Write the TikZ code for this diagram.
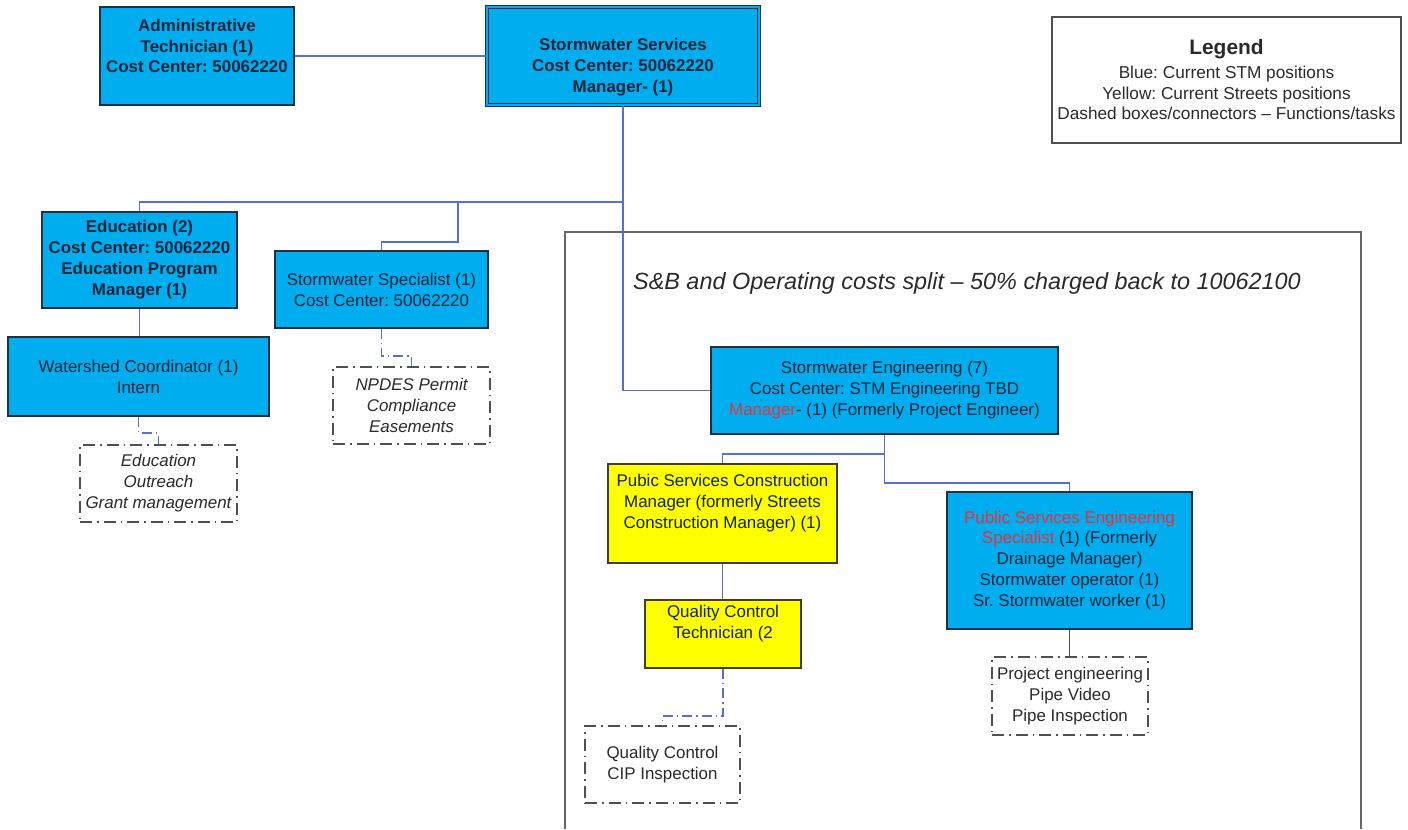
\documentclass[tikz,border=0pt]{standalone}
\usepackage{fontspec}
\setmainfont{Liberation Sans}
\frenchspacing
\definecolor{boxblue}{HTML}{00AEEF}
\definecolor{boxedge}{HTML}{1B2F45}
\definecolor{txt}{HTML}{10243A}
\definecolor{ylw}{HTML}{FFFF00}
\definecolor{ylwedge}{HTML}{3F3F1F}
\definecolor{conn}{HTML}{5470D0}
\definecolor{dashgray}{HTML}{505050}
\definecolor{tasktxt}{HTML}{2A2A2A}
\definecolor{redtxt}{HTML}{E8303A}
\definecolor{framegray}{HTML}{666666}
\tikzset{
  boxfont/.style={font=\fontsize{17}{21}\selectfont},
  bluebox/.style={draw=boxedge, fill=boxblue, line width=1.3bp, inner sep=0pt, text=txt, align=center, boxfont},
  yellowbox/.style={draw=ylwedge, fill=ylw, line width=1.3bp, inner sep=0pt, text=txt, align=center, boxfont},
  taskbox/.style={draw=dashgray, line width=1.2bp, dash pattern=on 12bp off 5bp on 1.5bp off 5bp, fill=white, inner sep=0pt, text=tasktxt, align=center, boxfont},
  plaintext/.style={inner sep=0pt, align=center, text=txt, boxfont},
  link/.style={draw=conn, line width=1.2bp},
  dlink/.style={link, dash pattern=on 10bp off 4bp on 1.5bp off 4bp},
  glink/.style={draw=dashgray, line width=1.2bp}
}
\begin{document}
\begin{tikzpicture}[x=1bp, y=-1bp]
\useasboundingbox (0,0) rectangle (1408,829);
\fill[white] (0,0) rectangle (1408,829);

% frame of the cost split area
\draw[framegray, line width=1.2bp] (565,829) -- (565,232) -- (1361,232) -- (1361,829);
\node[inner sep=0pt, text=tasktxt, font=\fontsize{23.5}{27}\selectfont\itshape] (title) at (967,283) {S\&B and Operating costs split -- 50\% charged back to 10062100};

% top row
\node[bluebox, minimum width=194bp, minimum height=98bp] (admin) at (197,56) {};
\node[plaintext, font=\fontsize{17}{21}\selectfont\bfseries] (admint) at (197,46) {Administrative\\Technician (1)\\Cost Center: 50062220};
\node[bluebox, minimum width=272bp, minimum height=98bp, double=boxblue, double distance=1.6bp, line width=1.2bp] (ss) at (623,56) {};
\node[plaintext, font=\fontsize{17}{21}\selectfont\bfseries] (sst) at (623,67) {Stormwater Services\\Cost Center: 50062220\\Manager- (1)};

% legend
\node[draw=dashgray, line width=1.3bp, fill=white, minimum width=349bp, minimum height=126bp] (legend) at (1226.5,80) {};
\node[inner sep=0pt, text=tasktxt, font=\fontsize{21}{25}\selectfont\bfseries] (legt) at (1226.5,49) {Legend};
\node[inner sep=0pt, align=center, text=tasktxt, font=\fontsize{17.3}{20.5}\selectfont] (legb) at (1226.5,93) {Blue: Current STM positions\\Yellow: Current Streets positions\\Dashed boxes/connectors -- Functions/tasks};

% left branch
\node[bluebox, font=\fontsize{17}{21}\selectfont\bfseries, minimum width=195bp, minimum height=96bp] (edu) at (139.5,260) {Education (2)\\Cost Center: 50062220\\Education Program\\Manager (1)};
\node[bluebox, minimum width=261bp, minimum height=79bp] (ws) at (138.5,376.5) {Watershed Coordinator (1)\\Intern};
\node[taskbox, font=\fontsize{17}{21}\selectfont\itshape, minimum width=157bp, minimum height=77bp] (edutask) at (158.5,483.5) {Education\\Outreach\\Grant management};
\node[bluebox, minimum width=213bp, minimum height=77bp] (spec) at (381.5,289.5) {Stormwater Specialist (1)\\Cost Center: 50062220};
\node[taskbox, font=\fontsize{17}{21}\selectfont\itshape, minimum width=157bp, minimum height=77bp] (npdes) at (411.5,405.5) {NPDES Permit\\Compliance\\Easements};

% engineering
\node[bluebox, minimum width=347bp, minimum height=87bp] (se) at (884.5,390.5) {Stormwater Engineering (7)\\Cost Center: STM Engineering TBD\\\textcolor{redtxt}{Manager}- (1) (Formerly Project Engineer)};
\node[yellowbox, minimum width=229bp, minimum height=99bp] (pscm) at (722.5,513.5) {};
\node[plaintext] (pscmt) at (722.5,503) {Pubic Services Construction\\Manager (formerly Streets\\Construction Manager) (1)};
\node[yellowbox, minimum width=156bp, minimum height=68bp] (qct) at (723,634) {};
\node[plaintext] (qctt) at (723,624) {Quality Control\\Technician (2};
\node[taskbox, minimum width=155bp, minimum height=77bp] (cip) at (662.5,764.5) {Quality Control\\CIP Inspection};
\node[bluebox, minimum width=245bp, minimum height=137bp] (pses) at (1069.5,560.5) {\textcolor{redtxt}{Public Services Engineering}\\\textcolor{redtxt}{Specialist} (1) (Formerly\\Drainage Manager)\\Stormwater operator (1)\\Sr. Stormwater worker (1)};
\node[taskbox, minimum width=156bp, minimum height=78bp] (proj) at (1070,696) {Project engineering\\Pipe Video\\Pipe Inspection};

% junction coordinates
\coordinate (br) at (623,202);
\coordinate (b2) at (458,202);
\coordinate (b2d) at (458,242);
\coordinate (wsj) at (138.5,433);
\coordinate (spj) at (381.5,356);
\coordinate (sej1) at (884.5,454);
\coordinate (sej2) at (884.5,483);
\coordinate (qcj) at (723,716);

% connectors
\draw[link] (admin) -- (ss);
\draw[link] (ss.south) |- (se.west);
\draw[link] (br) -| (edu.north);
\draw[link] (b2) -- (b2d) -| (spec.north);
\draw[link] (edu.south) -- (edu.south |- ws.north);
\draw[dlink] (ws.south) -- (wsj) -| (edutask.north);
\draw[dlink] (spec.south) -- (spj) -| (npdes.north);
\draw[link] (se.south) -- (sej1) -| (pscm.north);
\draw[link] (sej1) -- (sej2) -| (pses.north);
\draw[link] (pscm.south) -- (pscm.south |- qct.north);
\draw[dlink] (qct.south) -- (qcj) -| (cip.north);
\draw[glink] (pses.south) -- (pses.south |- proj.north);
\end{tikzpicture}
\end{document}
